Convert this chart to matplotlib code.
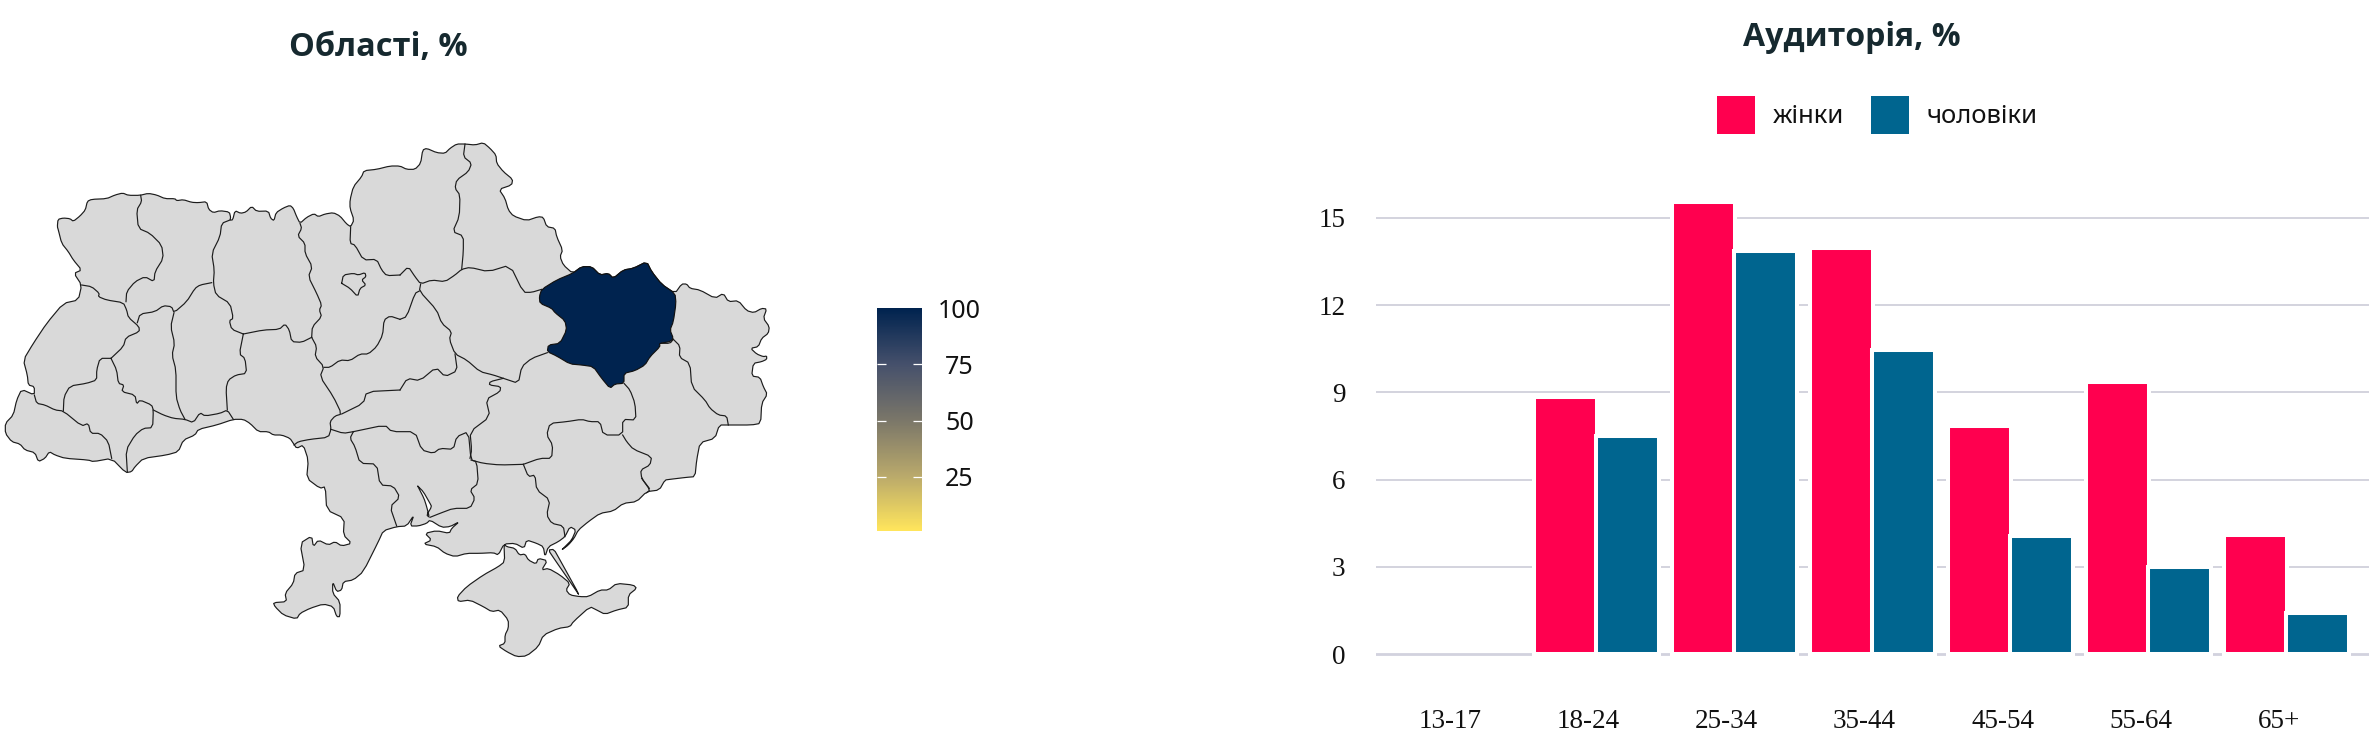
import matplotlib
matplotlib.use("Agg")
import matplotlib.pyplot as plt
from matplotlib.colors import LinearSegmentedColormap, Normalize
from matplotlib.cm import ScalarMappable
from matplotlib.patches import Polygon, Patch
from matplotlib.transforms import ScaledTranslation

W, H = 2376, 748
TITLE_FONT = ["Open Sans", "DejaVu Sans"]
SERIF = ["Liberation Serif", "DejaVu Serif"]

# ---------- chart data ----------
age_groups = ["13-17", "18-24", "25-34", "35-44", "45-54", "55-64", "65+"]
women = [0, 8.85, 15.55, 13.95, 7.85, 9.35, 4.1]
men = [0, 7.5, 13.85, 10.45, 4.05, 3.0, 1.4]
y_ticks = [0, 3, 6, 9, 12, 15]
scale_ticks = [25, 50, 75, 100]
region_value_kharkiv = 100

# ---------- map geometry, traced in crop frames ----------
# frame A origin (0,130), frame B origin (400,130), frame C origin (250,400); all 3x
north_a = [(172,290),(174,268),(190,264),(210,266),(220,274),(240,258),(256,240),(262,214),(275,208),(320,206),(345,195),(368,189),(385,196),(420,196),(445,190),(470,195),(495,206),(525,206),(530,212),(550,209),(575,217),(595,218),(620,215),(626,238),(640,248),(660,242),(688,246),(692,262),(690,270),(698,270),(705,242),(722,250),(738,246),(755,229),(770,244),(805,243),(812,265),(822,272),(828,248),(850,234),(870,226),(880,235),(890,260),(900,280),(920,262),(942,251),(955,260),(975,252),(1000,248),(1020,258),(1040,282),(1052,290),(1062,270),(1050,235),(1050,210),(1060,170),(1085,140),(1092,122),(1130,118),(1170,108),(1200,108)]
east_b = [(20,118),(45,118),(62,100),(68,60),(80,55),(110,68),(135,70),(150,55),(170,42),(195,42),(225,45),(250,38),(270,55),(288,75),(290,100),(310,125),(338,148),(335,165),(297,178),(315,205),(325,240),(340,258),(380,272),(415,260),(430,262),(440,290),(465,295),(470,320),(488,360),(480,380),(490,405),(518,430),(545,410),(575,410),(600,435),(625,430),(640,445),(670,420),(700,415),(740,395),(755,425),(785,463),(825,490),(845,462),(860,462),(870,475),(900,480),(945,505),(970,490),(985,515),(1015,512),(1040,542),(1062,548),(1085,535),(1100,537),(1090,565),(1108,590),(1105,610),(1085,625),(1075,650),(1052,655),(1070,672),(1090,680),(1100,678),(1100,688),(1085,695),(1060,700),(1055,738),(1080,742),(1090,770),(1102,793),(1085,820),(1082,880),(1055,885),(985,885),(958,885),(945,925),(900,938),(890,990),(885,1040)]
south_c = [(1310,232),(1260,238),(1245,240),(1228,270),(1190,275),(1160,305),(1120,310),(1090,333),(1050,340),(1015,365),(985,390),(972,415),(955,435),(935,450),(945,440),(965,420),(978,390),(960,380),(945,410),(925,425),(895,440),(885,470),(880,440),(860,430),(830,420),(822,445),(795,430),(762,432),(745,465),(730,458),(690,460),(650,460),(615,470),(585,460),(560,440),(520,432),(545,420),(525,400),(560,392),(598,400),(605,385),(628,365),(600,380),(575,382),(540,360),(530,370),(505,378),(480,378),(492,345),(470,378),(440,380),(400,392),(385,425),(340,515),(310,540),(280,545),(275,570),(260,575),(248,545),(248,580),(270,605),(270,650),(260,650),(250,620),(220,612),(180,625),(150,640),(140,657),(100,645),(75,620),(70,608),(110,605),(105,580),(130,550),(135,520),(165,510),(150,430),(185,408),(190,440),(205,420),(235,435),(255,425),(275,438),(305,430),(280,405),(283,355),(230,330),(226,260),(210,265),(170,235),(175,180),(160,135),(140,145),(130,130)]
west_a = [(870,925),(845,915),(820,915),(805,905),(775,905),(750,880),(730,868),(700,868),(650,885),(595,898),(585,915),(550,930),(535,965),(500,975),(430,985),(405,1010),(395,1025),(377,1028),(335,985),(280,995),(265,990),(195,985),(165,975),(148,965),(135,985),(115,995),(105,968),(75,960),(60,942),(35,935),(16,910),(16,880),(40,855),(50,810),(65,778),(103,795),(103,770),(85,765),(82,735),(70,690),(100,640),(140,580),(190,520),(235,510),(245,465),(222,430),(245,420),(220,390),(205,365),(185,340),(175,300)]

borders_a = [
 [(422,196),(425,215),(410,240),(415,295),(450,310),(485,345),(490,385),(465,425),(462,455),(435,440),(405,455),(380,485),(378,515)],
 [(245,465),(275,470),(298,490),(295,500),(320,510),(370,518),(380,540),(385,562),(417,590),(418,605),(378,622),(370,650),(333,685)],
 [(412,578),(420,552),(465,545),(490,527),(515,530),(522,548),(560,515),(585,475),(600,465),(635,458)],
 [(690,270),(665,280),(660,320),(635,370),(643,420),(640,460),(648,495),(690,520),(700,565),(688,572),(695,598),(730,612)],
 [(730,612),(718,672),(735,685),(740,730),(708,735),(685,750),(678,775),(682,840)],
 [(522,548),(512,590),(524,640),(516,675),(528,720),(528,800),(540,840),(555,868)],
 [(460,840),(490,855),(520,865),(555,868),(580,878),(600,848),(615,858),(660,850),(682,840),(700,868)],
 [(333,685),(350,720),(355,760),(372,765),(365,785),(405,795),(410,822),(420,810),(455,825),(460,840),(458,893),(430,895),(405,915),(378,960),(382,1025)],
 [(333,685),(300,685),(290,720),(290,750),(260,760),(210,768),(192,800),(190,843)],
 [(103,795),(110,820),(135,825),(165,840),(190,843),(245,888),(265,880),(272,910),(300,910),(325,935),(335,985)],
 [(730,612),(790,600),(838,598),(855,582),(868,600),(875,635),(905,637),(935,622)],
 [(900,280),(905,295),(893,318),(915,340),(915,370),(937,410),(925,440),(950,490),(965,525),(958,540),(965,560),(937,590),(935,622)],
 [(935,622),(950,650),(945,680),(972,710),(960,740),(1000,800),(1025,852),(1005,858),(990,875),(993,898),(985,922),(930,928),(895,935),(882,945)],
 [(972,712),(990,712),(1020,690),(1050,692),(1080,672),(1105,672),(1130,650),(1148,615),(1152,570),(1170,558),(1200,568)],
 [(1052,290),(1050,340),(1065,345),(1090,390),(1130,388),(1145,420),(1160,437),(1200,435)],
 [(1025,460),(1030,435),(1060,430),(1075,435),(1095,428),(1098,440),(1085,450),(1098,465),(1080,475),(1073,500),(1050,475),(1025,460)],
 [(1025,852),(1090,820),(1100,785),(1200,780)],
 [(993,898),(1030,910),(1060,905)],
]
borders_b = [
 [(0,435),(25,410),(45,440),(62,462),(95,450),(135,455),(165,435),(185,418),(210,412),(265,425),(330,405),(370,487),(395,487),(425,478)],
 [(195,42),(190,80),(215,100),(205,125),(170,150),(165,175),(180,195),(178,260),(158,305),(190,318),(190,365),(185,418)],
 [(62,462),(58,483),(110,540),(125,580),(155,605),(148,628),(165,672),(200,690),(240,725),(280,735),(310,745),(355,760),(365,710),(395,685),(442,668)],
 [(58,483),(45,490),(20,560),(0,568)],
 [(165,672),(172,722),(135,740),(108,712),(60,752),(22,745),(0,780)],
 [(310,745),(270,755),(268,765),(302,770),(300,785),(258,808),(270,860),(210,905),(215,960),(210,985)],
 [(672,760),(690,780),(705,820),(708,870),(668,868),(668,915),(610,915),(600,875),(570,875),(545,868),(500,875),(450,880),(440,915),(458,945),(455,985),(420,985),(370,1003)],
 [(668,915),(680,935),(700,958),(755,980),(750,1005),(722,1020),(725,1045),(748,1075)],
 [(820,628),(840,648),(838,682),(870,700),(875,770),(915,810),(930,835),(955,855),(980,858),(985,885)],
 [(778,640),(810,640),(820,628)],
]
borders_c = [
 [(310,95),(300,115),(315,140),(330,190),(380,192),(390,255),(430,258),(450,292),(420,320),(440,378)],
 [(310,95),(405,75),(425,95),(495,95),(515,150),(550,160),(570,145),(610,148),(620,110),(655,95),(663,180),(680,185),(685,250),(660,270),(675,295),(660,325),(610,325),(570,340),(540,352)],
 [(663,180),(700,190),(750,195),(820,193)],
 [(820,193),(835,230),(855,225),(860,270),(900,300),(890,345),(905,370),(940,378),(945,410)],
 [(1175,235),(1200,270),(1190,278)],
]
estuary_c = [(503,258),(520,275),(540,310),(545,320),(530,345),(538,352),(530,320),(522,295),(503,258)]
crimea_c = [(762,432),(764,485),(745,500),(700,525),(650,560),(622,590),(625,605),(660,600),(700,620),(725,635),(750,630),(775,660),(775,685),(765,705),(765,730),(745,738),(770,755),(800,770),(830,768),(865,740),(880,705),(925,685),(960,680),(970,665),(1020,620),(1040,630),(1065,643),(1100,630),(1135,622),(1135,585),(1160,565),(1150,555),(1100,550),(1075,570),(1050,570),(1015,590),(990,590),(960,585),(948,570),(960,550),(930,525),(895,505),(875,510),(892,482),(865,475),(858,492),(835,480),(825,462),(808,465),(795,445),(770,440)]
spit_c = [(895,450),(912,448),(930,480),(992,592),(960,545),(915,480)]
kharkiv_b = [(518,430),(545,410),(575,410),(600,435),(625,430),(640,445),(670,420),(700,415),(740,395),(755,425),(785,463),(825,490),(828,520),(820,575),(810,600),(820,625),(810,635),(778,640),(780,650),(750,680),(735,705),(705,722),(672,730),(672,760),(645,762),(630,775),(605,745),(580,710),(545,705),(510,702),(470,678),(442,665),(445,645),(480,640),(500,600),(495,572),(465,548),(455,535),(420,520),(418,500),(425,478),(470,450)]

def frame(pts, x0, y0):
    return [(x0 + x / 3, y0 + y / 3) for x, y in pts]
A = lambda p: frame(p, 0, 130)
B = lambda p: frame(p, 400, 130)
C = lambda p: frame(p, 250, 400)

def smooth(pts, closed=False):
    """One corner-cutting pass so that the traced outlines are less angular."""
    out = [] if closed else [pts[0]]
    n = len(pts)
    for i in range(n if closed else n - 1):
        (x0, y0), (x1, y1) = pts[i], pts[(i + 1) % n]
        out.append((0.8 * x0 + 0.2 * x1, 0.8 * y0 + 0.2 * y1))
        out.append((0.2 * x0 + 0.8 * x1, 0.2 * y0 + 0.8 * y1))
    if not closed:
        out.append(pts[-1])
    return out

scale_cmap = LinearSegmentedColormap.from_list(
    "scale", ["#ffe55c", "#b8a86b", "#7a7669", "#45506b", "#00234f"])
scale_norm = Normalize(1, 100)

fig = plt.figure(figsize=(W / 100, H / 100), dpi=100, facecolor="white")

def rect(x0, y0, x1, y1):
    return [x0 / W, 1 - y1 / H, (x1 - x0) / W, (y1 - y0) / H]

# ---------- map ----------
mp = fig.add_axes([0, 0, 1, 1])
mp.set_xlim(0, W)
mp.set_ylim(H, 0)
mp.axis("off")
LAND, EDGE, LW = "#d9d9d9", "#1c1c1c", 0.85
outline = A(north_a) + B(east_b) + C(south_c) + A(west_a)
def shape(pts, fc, ec=EDGE, z=2):
    mp.add_patch(Polygon(smooth(pts, True), closed=True, fc=fc, ec=ec, lw=LW, joinstyle="round", zorder=z))
shape(outline, LAND)
shape(C(crimea_c), LAND)
shape(C(spit_c), LAND)
shape(C(estuary_c), "white", z=4)
for conv, group in ((A, borders_a), (B, borders_b), (C, borders_c)):
    for line in group:
        xs, ys = zip(*smooth(conv(line)))
        mp.plot(xs, ys, color=EDGE, lw=LW, solid_joinstyle="round", zorder=3)
shape(B(kharkiv_b), scale_cmap(scale_norm(region_value_kharkiv)), ec="#111111", z=5)
fig.text(378 / W, 1 - 47 / H, "Області, %", family=TITLE_FONT, fontsize=23.4, fontweight="bold",
         color="#16292f", ha="center", va="center")

# ---------- colour scale ----------
cax = fig.add_axes(rect(877.3, 308.3, 922, 530.7))
cb = fig.colorbar(ScalarMappable(norm=scale_norm, cmap=scale_cmap), cax=cax, ticks=scale_ticks)
cb.outline.set_visible(False)
cax.tick_params(axis="y", direction="in", length=6.5, width=0.9, color="white",
                left=True, right=True, labelsize=18, pad=27)
for lab in cax.get_yticklabels():
    lab.set_ha("center")
    lab.set_family("Noto Sans")
    lab.set_color("#111111")
last = cax.yaxis.get_major_ticks()[-1]
last.tick1line.set_visible(False)
last.tick2line.set_visible(False)

# ---------- bars ----------
PX_X, PX_Y = 138.0, 29.07
ZERO_Y = 654.0
ax = fig.add_axes(rect(1376, 190, 2369, 660))
ax.set_xlim(-(1458.6 - 1376) / PX_X, (2369 - 1458.6) / PX_X)
ax.set_ylim(-(660 - ZERO_Y) / PX_Y, (ZERO_Y - 190) / PX_Y)
for s in ax.spines.values():
    s.set_visible(False)
offset = 31 / PX_X
bw = 63 / PX_X
xpos = list(range(len(age_groups)))
b1 = ax.bar([x - offset for x in xpos], women, bw, color="#ff004f", edgecolor="white", linewidth=2.9, zorder=3, label="жінки")
b2 = ax.bar([x + offset for x in xpos], men, bw, color="#00658f", edgecolor="white", linewidth=2.9, zorder=3, label="чоловіки")
for container in (b1, b2):
    for bar in container:
        if bar.get_height() == 0:
            bar.set_edgecolor("none")
ax.set_axisbelow(True)
ax.set_yticks(y_ticks)
ax.yaxis.grid(True, color="#c8c8d4", lw=1.1)
ax.yaxis.get_gridlines()[0].set_linewidth(2.0)
ax.yaxis.get_gridlines()[0].set_color("#d2d2de")
ax.tick_params(axis="y", length=0, pad=22, labelsize=19.5)
ax.set_xticks(xpos, age_groups)
ax.tick_params(axis="x", length=0, pad=35, labelsize=19.5)
for lab in ax.get_yticklabels() + ax.get_xticklabels():
    lab.set_family(SERIF)
    lab.set_color("#111111")
shift = ScaledTranslation(-8 / 100, 0, fig.dpi_scale_trans)
for lab in ax.get_xticklabels():
    lab.set_transform(lab.get_transform() + shift)

fig.text(1852 / W, 1 - 37 / H, "Аудиторія, %", family=TITLE_FONT, fontsize=23, fontweight="bold",
         color="#16292f", ha="center", va="center")
fs = 18.5
px = fs * 100 / 72
leg = fig.legend(handles=[Patch(fc="#ff004f", lw=0, label="жінки"), Patch(fc="#00658f", lw=0, label="чоловіки")],
                 loc="center left", bbox_to_anchor=(1716.5 / W, 1 - 115 / H), ncols=2, frameon=False,
                 prop={"family": "Noto Sans", "size": fs}, handlelength=38.5 / px, handleheight=1.957,
                 handletextpad=17.6 / px, columnspacing=27 / px, borderpad=0, borderaxespad=0, labelcolor="#111111")

fig.savefig("out.png", dpi=100)
